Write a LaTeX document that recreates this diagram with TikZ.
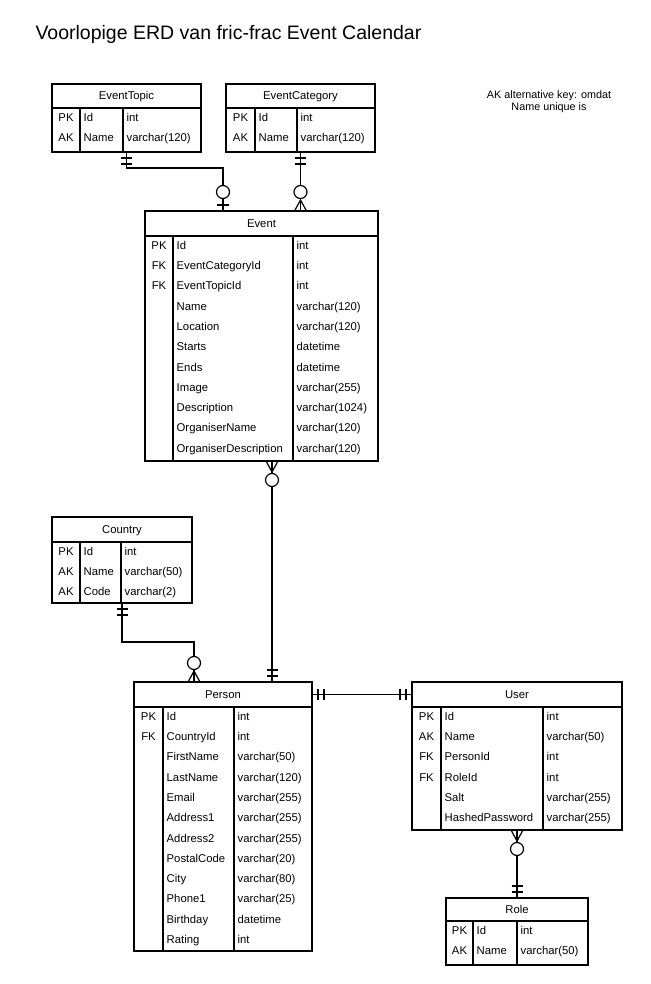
\documentclass[tikz,border=0pt]{standalone}
\usepackage{fontspec}
\setmainfont{Liberation Sans}
\usetikzlibrary{calc,positioning}

\tikzset{
  entity/.style={draw, line width=1.3pt, rectangle, anchor=north west, inner sep=0pt, outer sep=0pt},
  frame/.style={line width=1.3pt},
  rel/.style={line width=1.2pt},
  cell/.style={inner sep=0pt, font=\fontsize{11.3}{13}\selectfont, text height=9.5pt, text depth=2pt},
  keycell/.style={cell},
  fieldcell/.style={cell, anchor=west},
  typecell/.style={cell, anchor=west},
  note/.style={align=center, font=\fontsize{10.8}{12}\selectfont},
  pics/onlyone/.style={code={\draw[rel] (6,-5.5) -- (6,5.5) (12,-5.5) -- (12,5.5);}},
  pics/zeroone/.style={code={\draw[rel] (6,-6) -- (6,6);
    \draw[rel,fill=white] (19,0) circle[radius=6.5pt];}},
  pics/zeromany/.style={code={\draw[rel] (0,-6) -- (11,0) -- (0,6);
    \draw[rel,fill=white] (19,0) circle[radius=6.5pt];}}
}

\begin{document}
\begin{tikzpicture}[x=1pt,y=-1pt]
\fill[white] (0,0) rectangle (650,984);
\useasboundingbox (0,0) rectangle (650,984);

\node[anchor=base west, font=\fontsize{19.5}{23}\selectfont] (title) at (32,40) {Voorlopige ERD van fric-frac Event Calendar};
\node[note] (note) at (549,102) {AK alternative key: omdat\\Name unique is};

% tables: name/title/left/top/right/bottom/header/divider 1/divider 2
\foreach \ent/\ttl/\xl/\yt/\xr/\yb/\yh/\xa/\xb in {
  topic/EventTopic/52/84/201/152/108/80/123,
  category/EventCategory/226/84/375/152/108/255/297,
  event/Event/145/211/378/461/236/173/293,
  country/Country/52/517/192/603/542/80/121,
  person/Person/134/682/312/951/707/163/234,
  user/User/412/682/622/830/707/441/543,
  role/Role/446/898/588/965/921/473/517}
{
  \node[entity, minimum width={(\xr-\xl)*1pt}, minimum height={(\yb-\yt)*1pt}] (\ent) at (\xl,\yt) {};
  \node[cell] (\ent-title) at ({(\xl+\xr)/2},{(\yt+\yh)/2}) {\ttl};
  \draw[frame] (\xl,\yh) -- (\xr,\yh) (\xa,\yh) -- (\xa,\yb) (\xb,\yh) -- (\xb,\yb);
}

\begin{scope}
\def\rows{PK/Id/int,AK/Name/varchar(120)}
\foreach \k/\f/\ty [count=\i] in \rows {
  \node[keycell] (topic-k\i) at (66,{97.2+\i*20.3}) {\k};
  \node[fieldcell] (topic-f\i) at (83.5,{97.2+\i*20.3}) {\f};
  \node[typecell] (topic-t\i) at (126.5,{97.2+\i*20.3}) {\ty};
}
\end{scope}

\begin{scope}
\def\rows{PK/Id/int,AK/Name/varchar(120)}
\foreach \k/\f/\ty [count=\i] in \rows {
  \node[keycell] (category-k\i) at (240.5,{97.2+\i*20.3}) {\k};
  \node[fieldcell] (category-f\i) at (258.5,{97.2+\i*20.3}) {\f};
  \node[typecell] (category-t\i) at (300.5,{97.2+\i*20.3}) {\ty};
}
\end{scope}

\begin{scope}
\def\rows{PK/Id/int,FK/EventCategoryId/int,FK/EventTopicId/int,{}/Name/varchar(120),
  {}/Location/varchar(120),{}/Starts/datetime,{}/Ends/datetime,{}/Image/varchar(255),
  {}/Description/varchar(1024),{}/OrganiserName/varchar(120),{}/OrganiserDescription/varchar(120)}
\foreach \k/\f/\ty [count=\i] in \rows {
  \node[keycell] (event-k\i) at (159,{225.2+\i*20.3}) {\k};
  \node[fieldcell] (event-f\i) at (176.5,{225.2+\i*20.3}) {\f};
  \node[typecell] (event-t\i) at (296.5,{225.2+\i*20.3}) {\ty};
}
\end{scope}

\begin{scope}
\def\rows{PK/Id/int,AK/Name/varchar(50),AK/Code/varchar(2)}
\foreach \k/\f/\ty [count=\i] in \rows {
  \node[keycell] (country-k\i) at (66,{531.2+\i*20.3}) {\k};
  \node[fieldcell] (country-f\i) at (83.5,{531.2+\i*20.3}) {\f};
  \node[typecell] (country-t\i) at (124.5,{531.2+\i*20.3}) {\ty};
}
\end{scope}

\begin{scope}
\def\rows{PK/Id/int,FK/CountryId/int,{}/FirstName/varchar(50),{}/LastName/varchar(120),
  {}/Email/varchar(255),{}/Address1/varchar(255),{}/Address2/varchar(255),{}/PostalCode/varchar(20),
  {}/City/varchar(80),{}/Phone1/varchar(25),{}/Birthday/datetime,{}/Rating/int}
\foreach \k/\f/\ty [count=\i] in \rows {
  \node[keycell] (person-k\i) at (148.5,{696.2+\i*20.3}) {\k};
  \node[fieldcell] (person-f\i) at (166.5,{696.2+\i*20.3}) {\f};
  \node[typecell] (person-t\i) at (237.5,{696.2+\i*20.3}) {\ty};
}
\end{scope}

\begin{scope}
\def\rows{PK/Id/int,AK/Name/varchar(50),FK/PersonId/int,FK/RoleId/int,
  {}/Salt/varchar(255),{}/HashedPassword/varchar(255)}
\foreach \k/\f/\ty [count=\i] in \rows {
  \node[keycell] (user-k\i) at (426.5,{696.2+\i*20.3}) {\k};
  \node[fieldcell] (user-f\i) at (444.5,{696.2+\i*20.3}) {\f};
  \node[typecell] (user-t\i) at (546.5,{696.2+\i*20.3}) {\ty};
}
\end{scope}

\begin{scope}
\def\rows{PK/Id/int,AK/Name/varchar(50)}
\foreach \k/\f/\ty [count=\i] in \rows {
  \node[keycell] (role-k\i) at (459.5,{910.2+\i*20.3}) {\k};
  \node[fieldcell] (role-f\i) at (476.5,{910.2+\i*20.3}) {\f};
  \node[typecell] (role-t\i) at (520.5,{910.2+\i*20.3}) {\ty};
}
\end{scope}

% relations
\coordinate (topic-in) at ([xshift=78pt]event.north west);
\coordinate (category-in) at (category.south |- event.north);
\coordinate (event-out) at ([xshift=10.5pt]event.south);
\coordinate (person-in) at (event-out |- person.north);
\coordinate (country-in) at ([xshift=60pt]person.north west);
\coordinate (person-out) at (person.east |- person-title);
\coordinate (user-in) at (user.west |- person-title);

\draw[rel] (topic.south) -- ++(0,16) -| (topic-in);
\draw[rel] (category.south) -- (category-in);
\draw[rel] (event-out) -- (person-in);
\draw[rel] (country.south) -- ++(0,39) -| (country-in);
\draw[rel] (person-out) -- (user-in);
\draw[rel] (user.south) -- (role.north);

\pic[rotate=-90] at (topic.south) {onlyone};
\pic[rotate=90] at (topic-in) {zeroone};
\pic[rotate=-90] at (category.south) {onlyone};
\pic[rotate=90] at (category-in) {zeromany};
\pic[rotate=-90] at (event-out) {zeromany};
\pic[rotate=90] at (person-in) {onlyone};
\pic[rotate=-90] at (country.south) {onlyone};
\pic[rotate=90] at (country-in) {zeromany};
\pic at (person-out) {onlyone};
\pic[rotate=180] at (user-in) {onlyone};
\pic[rotate=-90] at (user.south) {zeromany};
\pic[rotate=90] at (role.north) {onlyone};

\end{tikzpicture}
\end{document}
